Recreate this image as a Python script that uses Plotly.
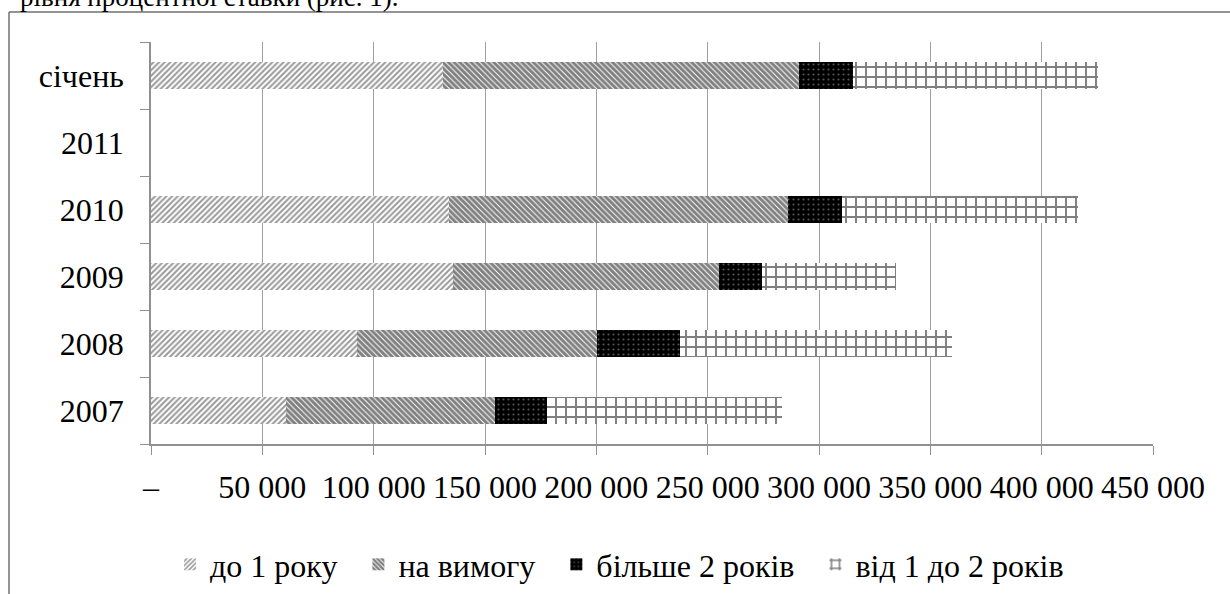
import plotly.graph_objects as go

categories = ["2007", "2008", "2009", "2010", "2011", "січень"]
series_names = ["до 1 року", "на вимогу", "більше 2 років", "від 1 до 2 років"]
do_1_roku = [60600, 92500, 135600, 133800, None, 131100]
na_vymohu = [93900, 107800, 119500, 152300, None, 159900]
bilshe_2_rokiv = [23300, 37300, 19300, 24200, None, 24300]
vid_1_do_2_rokiv = [105600, 122100, 60200, 106000, None, 110000]
tick_values = [0, 50000, 100000, 150000, 200000, 250000, 300000, 350000, 400000, 450000]
tick_labels = ["–", "50 000", "100 000", "150 000", "200 000", "250 000",
               "300 000", "350 000", "400 000", "450 000"]

FONT = "Liberation Serif, Times New Roman, serif"
pad = "\u00a0\u00a0"

styles = [
    dict(shape="/", fgcolor="#333333", bgcolor="white", size=4, solidity=0.5),
    dict(shape="\\", fgcolor="black", bgcolor="white", size=4, solidity=0.75),
    dict(shape=".", fgcolor="#aaaaaa", bgcolor="black", size=5, solidity=0.15),
    dict(shape="+", fgcolor="black", bgcolor="white", size=10, solidity=0.35),
]
values = [do_1_roku, na_vymohu, bilshe_2_rokiv, vid_1_do_2_rokiv]
bar_colors = ["white", "white", "black", "white"]

fig = go.Figure()
for name, vals, st, col in zip(series_names, values, styles, bar_colors):
    fig.add_trace(go.Bar(
        y=categories, x=vals, name=name + pad, orientation="h",
        marker=dict(color=col, line=dict(width=0), pattern=st),
    ))

fig.update_layout(
    width=1230, height=594,
    barmode="stack", bargap=0.6,
    paper_bgcolor="white", plot_bgcolor="white",
    margin=dict(l=151, r=77, t=42, b=150, autoexpand=False),
    font=dict(family=FONT, size=32, color="black"),
    showlegend=True,
    legend=dict(orientation="h", x=0.019, xanchor="left", y=-0.2998, yanchor="middle",
                font=dict(family=FONT, size=32, color="black"),
                traceorder="normal", itemwidth=30, bgcolor="rgba(0,0,0,0)"),
    xaxis=dict(range=[0, 450000], tickvals=tick_values, ticktext=tick_labels,
               showgrid=True, gridcolor="#a0a0a0", gridwidth=1,
               showline=True, linecolor="#909090", linewidth=1.5,
               ticks="outside", ticklen=9, tickcolor="#909090",
               tickfont=dict(family=FONT, size=32), zeroline=False,
               ticklabelstandoff=5, automargin=False),
    yaxis=dict(type="category", categoryorder="array", categoryarray=categories,
               tickson="boundaries", ticks="outside", ticklen=9, tickcolor="#909090",
               showline=True, linecolor="#909090", linewidth=1.5,
               showgrid=False, tickfont=dict(family=FONT, size=32),
               ticklabelstandoff=19, automargin=False),
)

# document frame (left and top border) and cut-off body text above the chart
fig.add_shape(type="line", xref="paper", yref="paper",
              x0=(9 - 151) / 1002, x1=(9 - 151) / 1002, y0=(444 - 12) / 402, y1=(444 - 600) / 402,
              line=dict(color="#707070", width=1.5))
fig.add_shape(type="line", xref="paper", yref="paper",
              x0=(9 - 151) / 1002, x1=(1235 - 151) / 1002, y0=(444 - 12) / 402, y1=(444 - 12) / 402,
              line=dict(color="#707070", width=1.5))
fig.add_annotation(text="рівня процентної ставки (рис. 1).", xref="paper", yref="paper",
                   x=(18 - 151) / 1002, y=(444 - 14) / 402, xanchor="left", yanchor="bottom",
                   showarrow=False, font=dict(family=FONT, size=27, color="black"))

fig.write_html("out.html", config={"displayModeBar": False},
               post_script="document.body.style.margin='0px';")
